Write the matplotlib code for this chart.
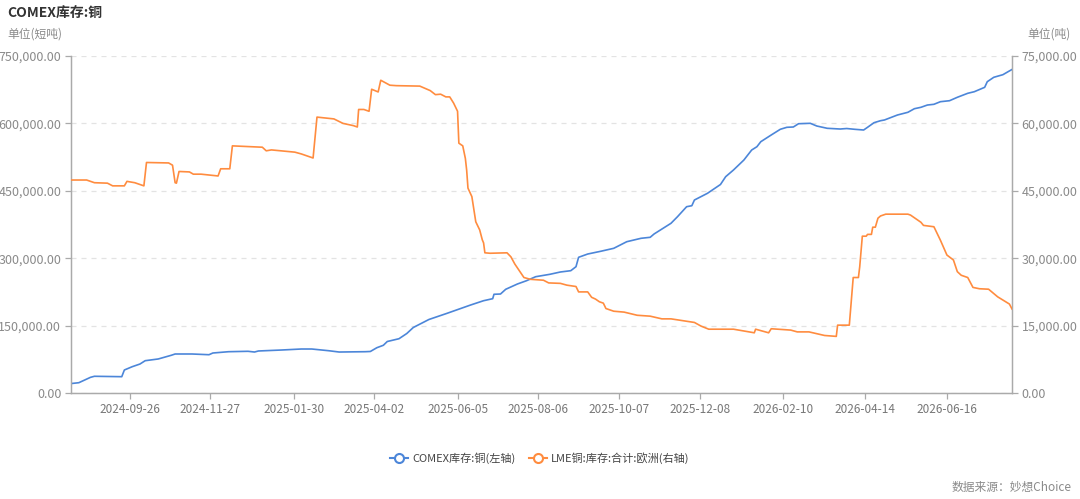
import pandas as pd
import matplotlib.pyplot as plt
import matplotlib.dates as mdates
from matplotlib.lines import Line2D
from matplotlib.ticker import FuncFormatter

plt.rcParams['font.family'] = ['Noto Sans CJK SC', 'DejaVu Sans']

# COMEX copper stocks (short tons, left axis)
comex_dates = [
    '2024-08-12', '2024-08-18', '2024-08-27', '2024-08-30', '2024-09-20', '2024-09-22',
    '2024-09-28', '2024-10-04', '2024-10-08', '2024-10-18', '2024-10-28', '2024-10-31',
    '2024-11-13', '2024-11-26', '2024-11-29', '2024-12-11', '2024-12-26', '2024-12-31',
    '2025-01-03', '2025-01-21', '2025-02-05', '2025-02-13', '2025-02-26', '2025-03-06',
    '2025-03-26', '2025-03-30', '2025-04-04', '2025-04-09', '2025-04-12', '2025-04-21',
    '2025-04-27', '2025-05-02', '2025-05-14', '2025-05-28', '2025-06-15', '2025-06-25',
    '2025-07-02', '2025-07-03', '2025-07-08', '2025-07-12', '2025-07-21', '2025-07-28',
    '2025-08-04', '2025-08-15', '2025-08-23', '2025-08-31', '2025-09-04', '2025-09-06',
    '2025-09-13', '2025-09-23', '2025-10-03', '2025-10-13', '2025-10-24', '2025-10-31',
    '2025-11-03', '2025-11-16', '2025-11-21', '2025-11-28', '2025-12-02', '2025-12-04',
    '2025-12-14', '2025-12-24', '2025-12-28', '2026-01-03', '2026-01-11', '2026-01-14',
    '2026-01-17', '2026-01-21', '2026-01-24', '2026-02-01', '2026-02-08', '2026-02-13',
    '2026-02-18', '2026-02-22', '2026-03-03', '2026-03-08', '2026-03-16', '2026-03-26',
    '2026-03-31', '2026-04-06', '2026-04-13', '2026-04-16', '2026-04-21', '2026-04-26',
    '2026-04-29', '2026-05-09', '2026-05-17', '2026-05-22', '2026-05-27', '2026-06-01',
    '2026-06-06', '2026-06-11', '2026-06-18', '2026-06-24', '2026-07-02', '2026-07-07',
    '2026-07-15', '2026-07-17', '2026-07-22', '2026-07-29', '2026-08-02', '2026-08-05',
]
comex_values = [
    21000, 22900, 34900, 37200, 36300, 51200,
    58500, 64500, 71900, 75700, 83900, 86800,
    86800, 85200, 89000, 91900, 92800, 91200,
    93500, 95700, 97900, 97900, 94100, 91200,
    91900, 92400, 100800, 106200, 114600, 120800,
    132400, 145800, 163600, 177400, 195800, 205400,
    209900, 219700, 220300, 230800, 242600, 249900,
    258800, 264200, 269300, 272200, 281100, 302000,
    309300, 315400, 322000, 336700, 344300, 346500,
    353900, 377700, 392400, 414600, 416800, 429500,
    444400, 464000, 481400, 496300, 518500, 529700,
    540800, 548100, 559300, 574200, 586900, 591300,
    592000, 599300, 600200, 594200, 589100, 587500,
    588600, 586900, 585300, 591300, 601600, 606000,
    607600, 618700, 624700, 632700, 635800, 640900,
    642500, 648300, 650500, 658100, 667000, 670500,
    680300, 692800, 702600, 708400, 715100, 720000,
]

# LME copper stocks, Europe (tonnes, right axis)
lme_dates = [
    '2024-08-12', '2024-08-24', '2024-08-30', '2024-09-09', '2024-09-13', '2024-09-22',
    '2024-09-24', '2024-09-30', '2024-10-07', '2024-10-09', '2024-10-26', '2024-10-29',
    '2024-10-31', '2024-11-01', '2024-11-03', '2024-11-11', '2024-11-14', '2024-11-20',
    '2024-12-03', '2024-12-05', '2024-12-12', '2024-12-14', '2025-01-06', '2025-01-09',
    '2025-01-13', '2025-01-31', '2025-02-05', '2025-02-14', '2025-02-17', '2025-03-02',
    '2025-03-09', '2025-03-17', '2025-03-20', '2025-03-21', '2025-03-25', '2025-03-29',
    '2025-03-31', '2025-04-05', '2025-04-07', '2025-04-14', '2025-04-19', '2025-05-07',
    '2025-05-15', '2025-05-19', '2025-05-23', '2025-05-27', '2025-05-30', '2025-06-02',
    '2025-06-05', '2025-06-06', '2025-06-09', '2025-06-11', '2025-06-12', '2025-06-13',
    '2025-06-16', '2025-06-19', '2025-06-22', '2025-06-24', '2025-06-25', '2025-06-26',
    '2025-06-30', '2025-07-13', '2025-07-16', '2025-07-19', '2025-07-23', '2025-07-26',
    '2025-07-31', '2025-08-10', '2025-08-14', '2025-08-23', '2025-08-28', '2025-09-04',
    '2025-09-06', '2025-09-13', '2025-09-16', '2025-09-19', '2025-09-22', '2025-09-25',
    '2025-09-27', '2025-10-03', '2025-10-11', '2025-10-21', '2025-10-31', '2025-11-09',
    '2025-11-16', '2025-12-04', '2025-12-09', '2025-12-15', '2026-01-03', '2026-01-19',
    '2026-01-20', '2026-01-30', '2026-02-01', '2026-02-16', '2026-02-21', '2026-03-02',
    '2026-03-14', '2026-03-23', '2026-03-24', '2026-04-02', '2026-04-05', '2026-04-09',
    '2026-04-10', '2026-04-12', '2026-04-15', '2026-04-16', '2026-04-19', '2026-04-20',
    '2026-04-22', '2026-04-24', '2026-04-26', '2026-04-30', '2026-05-17', '2026-05-19',
    '2026-05-27', '2026-05-29', '2026-06-06', '2026-06-11', '2026-06-16', '2026-06-21',
    '2026-06-24', '2026-06-27', '2026-07-02', '2026-07-06', '2026-07-11', '2026-07-18',
    '2026-07-25', '2026-07-30', '2026-08-03', '2026-08-05',
]
lme_values = [
    47400, 47400, 46800, 46700, 46100, 46100,
    47100, 46800, 46100, 51300, 51200, 50700,
    46800, 46700, 49300, 49200, 48700, 48700,
    48300, 49900, 49900, 55000, 54700, 53900,
    54100, 53600, 53200, 52300, 61400, 61000,
    60000, 59500, 59200, 63100, 63100, 62700,
    67600, 67000, 69600, 68500, 68400, 68300,
    67300, 66400, 66500, 65900, 65900, 64500,
    62700, 55600, 55000, 52200, 49600, 45600,
    43700, 38100, 36300, 34100, 33400, 31200,
    31100, 31200, 30300, 28700, 27000, 25700,
    25300, 25100, 24500, 24400, 24000, 23700,
    22500, 22500, 21300, 20900, 20300, 20000,
    18800, 18200, 18000, 17300, 17100, 16500,
    16500, 15700, 14900, 14200, 14200, 13400,
    14200, 13400, 14300, 14000, 13600, 13600,
    12800, 12600, 15100, 15100, 25700, 25700,
    28100, 34900, 34900, 35300, 35300, 36900,
    36900, 38900, 39400, 39800, 39800, 39600,
    38000, 37300, 37000, 34000, 30700, 29600,
    27000, 26200, 25700, 23500, 23200, 23100,
    21400, 20500, 19800, 18700,
]

x_ticks = ['2024-09-26', '2024-11-27', '2025-01-30', '2025-04-02', '2025-06-05', '2025-08-06',
           '2025-10-07', '2025-12-08', '2026-02-10', '2026-04-14', '2026-06-16']
left_ticks = [0, 150000, 300000, 450000, 600000, 750000]
right_ticks = [0, 15000, 30000, 45000, 60000, 75000]

BLUE = '#4C86D9'
ORANGE = '#FF8C3F'
GRAY = '#8a8a8a'
AXIS = '#aaaaaa'

fig = plt.figure(figsize=(10.8, 4.99), dpi=100)
ax = fig.add_axes([71 / 1080, 106 / 499, 941 / 1080, 337 / 499])
ax2 = ax.twinx()

ax.plot(pd.to_datetime(comex_dates), comex_values, color=BLUE, lw=1.2, zorder=3)
ax2.plot(pd.to_datetime(lme_dates), lme_values, color=ORANGE, lw=1.2, zorder=3)

ax.set_xlim(pd.Timestamp('2024-08-12'), pd.Timestamp('2026-08-05'))
ax.set_ylim(0, 750000)
ax2.set_ylim(0, 75000)

fmt = FuncFormatter(lambda v, p: f'{v:,.2f}')
ax.set_yticks(left_ticks)
ax.yaxis.set_major_formatter(fmt)
ax2.set_yticks(right_ticks)
ax2.yaxis.set_major_formatter(fmt)

ax.set_xticks(pd.to_datetime(x_ticks))
ax.xaxis.set_major_formatter(mdates.DateFormatter('%Y-%m-%d'))

ax.grid(axis='y', color='#e3e3e3', linestyle=(0, (4, 4)), linewidth=0.9)
ax.set_axisbelow(True)

for a in (ax, ax2):
    a.spines['top'].set_visible(False)
    for s in ('left', 'right', 'bottom'):
        a.spines[s].set_color(AXIS)
        a.spines[s].set_linewidth(0.9)
    a.tick_params(axis='both', colors=AXIS, labelcolor=GRAY, labelsize=9, length=4, width=0.9)
ax.tick_params(axis='x', labelcolor='#777777', labelsize=8.5, pad=3)
ax.tick_params(axis='y', pad=3)
ax2.tick_params(axis='y', pad=3)

fig.text(7 / 1080, 1 - 13 / 499, 'COMEX库存:铜', fontsize=10, fontweight='bold',
         color='#333333', va='center', ha='left')
fig.text(7 / 1080, 1 - 34 / 499, '单位(短吨)', fontsize=8.5, color=GRAY, va='center', ha='left')
fig.text(1071 / 1080, 1 - 34 / 499, '单位(吨)', fontsize=8.5, color=GRAY, va='center', ha='right')
fig.text(1072 / 1080, 1 - 487 / 499, '数据来源：妙想Choice', fontsize=8.5, color=GRAY,
         va='center', ha='right')

handles = [
    Line2D([0], [0], color=BLUE, lw=1.5, marker='o', markersize=6.5,
           markerfacecolor='white', markeredgewidth=1.5),
    Line2D([0], [0], color=ORANGE, lw=1.5, marker='o', markersize=6.5,
           markerfacecolor='white', markeredgewidth=1.5),
]
fig.legend(handles, ['COMEX库存:铜(左轴)', 'LME铜:库存:合计:欧洲(右轴)'],
           loc='center', bbox_to_anchor=(540 / 1080, 1 - 458 / 499), ncol=2,
           frameon=False, fontsize=8, handlelength=1.6, handletextpad=0.4,
           columnspacing=1.2, labelcolor='#444444')

fig.savefig('out.png', dpi=100)
